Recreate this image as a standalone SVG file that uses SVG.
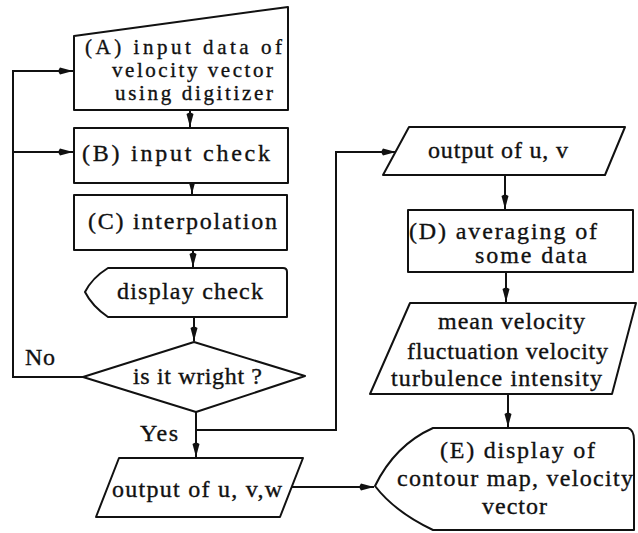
<svg xmlns="http://www.w3.org/2000/svg" width="638" height="533" viewBox="0 0 638 533">
<style>
.s{fill:#fff;stroke:#111;stroke-width:2;stroke-linejoin:round}
.c{fill:none;stroke:#111;stroke-width:2}
text{font-family:"Liberation Serif","Times New Roman",serif;font-size:24px;fill:#111;stroke:#111;stroke-width:0.35}
text.a{font-size:21px}
</style>
<defs>
<marker id="ah" viewBox="-16 -5 17 10" refX="0" refY="0" markerWidth="17" markerHeight="10" markerUnits="userSpaceOnUse" orient="auto">
<path d="M0,0 L-13,-3.5 Q-16,0 -13,3.5 Z" fill="#111"/>
</marker>
</defs>
<rect width="638" height="533" fill="#fff"/>
<g id="connectors">
<path class="c" d="M83,377 H13 V71 H73" marker-end="url(#ah)"/>
<path class="c" d="M13,152 H73" marker-end="url(#ah)"/>
<path class="c" d="M190,110 V127" marker-end="url(#ah)"/>
<path class="c" d="M192,183 V194" marker-end="url(#ah)"/>
<path class="c" d="M193,250 V267" marker-end="url(#ah)"/>
<path class="c" d="M194,317 V341" marker-end="url(#ah)"/>
<path class="c" d="M196,412 V457" marker-end="url(#ah)"/>
<path class="c" d="M196,430 H336 V152 H396" marker-end="url(#ah)"/>
<path class="c" d="M505,175 V209" marker-end="url(#ah)"/>
<path class="c" d="M506,272 V302" marker-end="url(#ah)"/>
<path class="c" d="M508,394 V427" marker-end="url(#ah)"/>
<path class="c" d="M288,487 H374" marker-end="url(#ah)"/>
</g>
<g id="nodeA">
<path class="s" d="M74,36 L288,7 V110 H74 Z"/>
<text class="a" x="85" y="54" textLength="197" lengthAdjust="spacing">(A) input data of</text>
<text class="a" x="112" y="77" textLength="161" lengthAdjust="spacing">velocity vector</text>
<text class="a" x="115" y="100" textLength="158" lengthAdjust="spacing">using digitizer</text>
</g>
<g id="nodeB">
<rect class="s" x="74" y="128" width="214" height="55"/>
<text x="82" y="161" textLength="188" lengthAdjust="spacing">(B) input check</text>
</g>
<g id="nodeC">
<rect class="s" x="74" y="195" width="213" height="55"/>
<text x="88" y="229" textLength="189" lengthAdjust="spacing">(C) interpolation</text>
</g>
<g id="displayCheck">
<path class="s" d="M108,268 H283 Q287,268 287,272 V317 H108 Q92,306 85,292 Q92,278 108,268 Z"/>
<text x="117" y="299" textLength="146" lengthAdjust="spacing">display check</text>
</g>
<g id="decision">
<path class="s" d="M194,342 L305,376 L196,412 L83,377 Z"/>
<text x="133" y="384" textLength="129" lengthAdjust="spacing">is it wright ?</text>
</g>
<g id="labels">
<text x="25" y="365" textLength="30" lengthAdjust="spacing">No</text>
<text x="140" y="441" textLength="38" lengthAdjust="spacing">Yes</text>
</g>
<g id="outUVW">
<path class="s" d="M119,458 H303 L280,517 H96 Z"/>
<text x="112" y="497" textLength="170" lengthAdjust="spacing">output of u, v,w</text>
</g>
<g id="outUV">
<path class="s" d="M409,127 H625 L605,175 H383 Z"/>
<text x="428" y="158" textLength="140" lengthAdjust="spacing">output of u, v</text>
</g>
<g id="nodeD">
<rect class="s" x="408" y="210" width="225" height="62"/>
<text x="409" y="239" textLength="188" lengthAdjust="spacing">(D) averaging of</text>
<text x="475" y="263" textLength="112" lengthAdjust="spacing">some data</text>
</g>
<g id="meanOut">
<path class="s" d="M410,303 H636 L612,394 H370 Z"/>
<text x="438" y="329" textLength="147" lengthAdjust="spacing">mean velocity</text>
<text x="407" y="359" textLength="201" lengthAdjust="spacing">fluctuation velocity</text>
<text x="391" y="386" textLength="211" lengthAdjust="spacing">turbulence intensity</text>
</g>
<g id="nodeE">
<path class="s" d="M433,428 H628 Q634,430 634,440 V530 H433 Q395,512 375,486 Q395,445 433,428 Z"/>
<text x="440" y="458" textLength="155" lengthAdjust="spacing">(E) display of</text>
<text x="397" y="486" textLength="236" lengthAdjust="spacing">contour map, velocity</text>
<text x="482" y="514" textLength="65" lengthAdjust="spacing">vector</text>
</g>
</svg>
